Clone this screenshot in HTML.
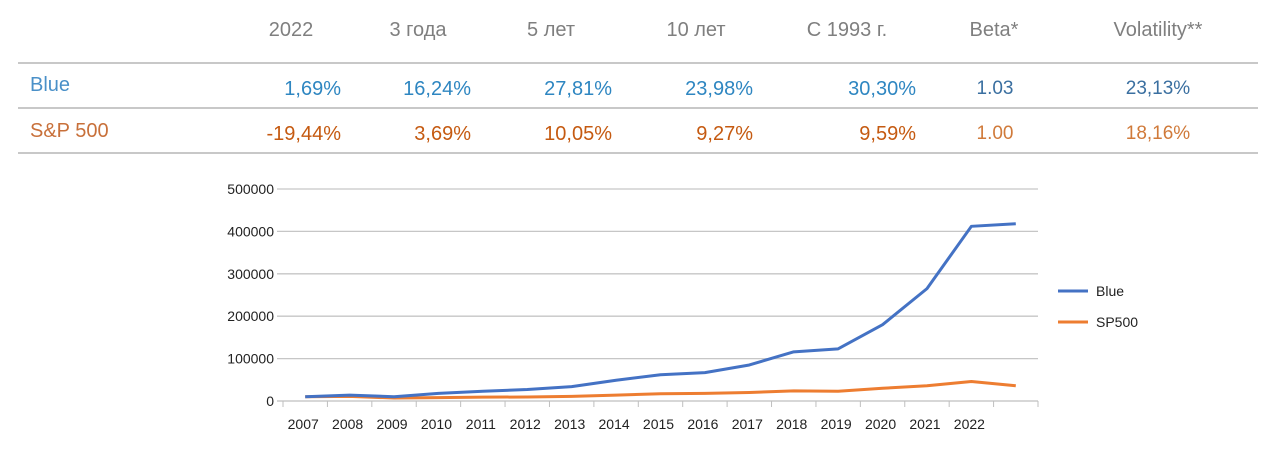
<!DOCTYPE html>
<html><head><meta charset="utf-8"><style>
html,body{margin:0;padding:0;background:#fff;width:1280px;height:463px;overflow:hidden}
svg{display:block;font-family:"Liberation Sans",sans-serif}
</style></head><body>
<svg id="s" width="1280" height="463">
<g font-size="20">
 <g fill="#7f7f7f" text-anchor="middle">
  <text x="291" y="36">2022</text>
  <text x="418" y="36">3 года</text>
  <text x="551" y="36">5 лет</text>
  <text x="696" y="36">10 лет</text>
  <text x="847" y="36">С 1993 г.</text>
  <text x="994" y="36">Beta*</text>
  <text x="1158" y="36">Volatility**</text>
 </g>
 <line x1="18" y1="63" x2="1258" y2="63" stroke="#c8c8c8" stroke-width="2"/>
 <line x1="18" y1="108" x2="1258" y2="108" stroke="#c8c8c8" stroke-width="2"/>
 <line x1="18" y1="153" x2="1258" y2="153" stroke="#c8c8c8" stroke-width="2"/>
 <g fill="#2e86c1">
  <text x="30" y="91" fill="#4a90c8">Blue</text>
  <g text-anchor="end"><text x="341" y="95">1,69%</text><text x="471" y="95">16,24%</text><text x="612" y="95">27,81%</text><text x="753" y="95">23,98%</text><text x="916" y="95">30,30%</text></g>
  <g text-anchor="middle" fill="#3a6fa0" font-size="19"><text x="995" y="94">1.03</text><text x="1158" y="94">23,13%</text></g>
 </g>
 <g fill="#c55a11">
  <text x="30" y="137" fill="#c8703a">S&amp;P 500</text>
  <g text-anchor="end"><text x="341" y="140">-19,44%</text><text x="471" y="140">3,69%</text><text x="612" y="140">10,05%</text><text x="753" y="140">9,27%</text><text x="916" y="140">9,59%</text></g>
  <g text-anchor="middle" fill="#d07a3a" font-size="19"><text x="995" y="139">1.00</text><text x="1158" y="139">18,16%</text></g>
 </g>
</g>
<g id="chart"></g>
</svg>
<script>
const categories=["2007","2008","2009","2010","2011","2012","2013","2014","2015","2016","2017","2018","2019","2020","2021","2022",""];
const blueValues=[10000,14000,10000,18000,23000,27000,34000,49000,62000,67000,85000,116000,123000,180000,265000,412000,418000];
const sp500Values=[10000,11000,7000,8000,9000,9500,11000,14000,17000,18000,20000,24000,23000,30000,36000,46000,36000];
const yTicks=[0,100000,200000,300000,400000,500000];
const NS="http://www.w3.org/2000/svg";
const g=document.getElementById('chart');
const L=283,R=1038,T=189,B=401,yMax=500000;
const cw=(R-L)/categories.length;
const x=i=>L+cw*(i+0.5);
const y=v=>B-(v/yMax)*(B-T);
function mk(t,a){const e=document.createElementNS(NS,t);for(const k in a)e.setAttribute(k,a[k]);g.appendChild(e);return e;}
yTicks.forEach(v=>{
 const l=mk('line',{x1:L-6,x2:R,y1:y(v),y2:y(v),stroke:v===0?'#bfbfbf':'#c6c6c6','stroke-width':1.3});
 
 
 const t=mk('text',{x:L-9,y:y(v)+5,'text-anchor':'end','font-size':14,fill:'#222'});
 t.textContent=v;
 
 
});
for(let i=0;i<=categories.length;i++){
 const l=mk('line',{x1:L+cw*i,x2:L+cw*i,y1:B,y2:B+6,stroke:'#bfbfbf','stroke-width':1});
 
 
}
categories.forEach((c,i)=>{
 const t=mk('text',{x:x(i)-2,y:429,'text-anchor':'middle','font-size':14,fill:'#222'});
 t.textContent=c;
 
 
});
function series(vals,col,name){
 const p=mk('polyline',{points:vals.map((v,i)=>x(i)+','+y(v)).join(' '),fill:'none',stroke:col,'stroke-width':3,'stroke-linejoin':'round'});
 
 
}
series(sp500Values,'#ed7d31','sp500-line');
series(blueValues,'#4472c4','blue-line');
[["Blue",'#4472c4',291],["SP500",'#ed7d31',322]].forEach(([n,c,yy])=>{
 const l=mk('line',{x1:1058,x2:1088,y1:yy,y2:yy,stroke:c,'stroke-width':3});
 
 
 const t=mk('text',{x:1096,y:yy+5,'font-size':14,fill:'#222'});
 t.textContent=n;
 
 
});
</script>
</body></html>
